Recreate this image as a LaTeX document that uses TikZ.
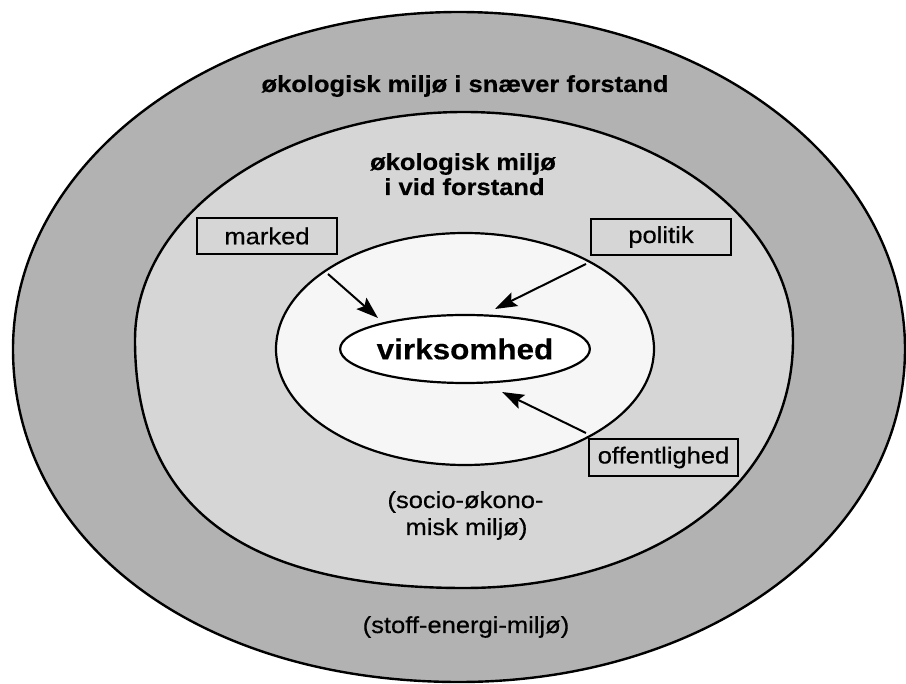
\documentclass[tikz,border=0pt]{standalone}
\usepackage{fontspec}
\setmainfont{Liberation Sans}[FakeStretch=1.1, UprightFeatures={FakeBold=0.5}, BoldFeatures={FakeBold=0.4}]
\usetikzlibrary{arrows.meta,shapes.geometric}
\definecolor{ringout}{gray}{0.70}
\definecolor{ringmid}{gray}{0.84}
\definecolor{ringin}{gray}{0.965}
\tikzset{
  ring/.style={line width=2.4pt},
  lbl/.style={inner sep=0pt, anchor=base, font=\fontsize{23.2}{26.5}\selectfont},
  blbl/.style={inner sep=0pt, anchor=base, font=\fontsize{23.2}{25.5}\selectfont\bfseries},
  tagbox/.style={draw, line width=2pt, rectangle, inner sep=0pt, minimum height=36pt,
    font=\fontsize{23.2}{26}\selectfont},
  infl/.style={line width=2pt, -{Stealth[length=22pt,width=15pt,inset=4pt]}}
}
\begin{document}
\begin{tikzpicture}[x=1pt,y=-1pt]
\useasboundingbox (0,0) rectangle (906,684);
\fill[white] (0,0) rectangle (906,684);
% outer ring
\filldraw[ring, fill=ringout]
  (459,12) .. controls (705.3,12) and (905,162.9) .. (905,349)
  .. controls (905,536) and (708.8,682) .. (459,682)
  .. controls (200.3,682) and (13,542.7) .. (13,349)
  .. controls (13,162.9) and (212.7,12) .. cycle;
% middle ring
\filldraw[ring, fill=ringmid]
  (464,112) .. controls (645.7,112) and (793,214.1) .. (793,340)
  .. controls (793,484.4) and (654.8,588) .. (464,588)
  .. controls (243.6,588) and (135,506.8) .. (135,340)
  .. controls (135,214.1) and (282.3,112) .. cycle;
% inner area
\filldraw[line width=2.2pt, fill=ringin] (465,349) ellipse [x radius=189, y radius=116];
% core
\node[draw, ellipse, line width=2.2pt, fill=white, inner sep=0pt,
      minimum width=240pt, minimum height=68pt,
      font=\fontsize{28.6}{32}\selectfont\bfseries] (virk) at (465,349) {virksomhed};
% labels
\node[blbl] (snaever) at (465,92) {økologisk miljø i snæver forstand};
\node[blbl] (vida) at (463,170) {økologisk miljø};
\node[blbl] (vidb) at (464.5,195) {i vid forstand};
\node[lbl] (socioa) at (465.5,508) {(socio-økono-};
\node[lbl] (sociob) at (466.5,535) {misk miljø)};
\node[lbl] (stoff) at (466,633) {(stoff-energi-miljø)};
% boxes
\node[tagbox, minimum width=140pt] (marked) at (267,236) {marked};
\node[tagbox, minimum width=140pt] (politik) at (661,237) {politik};
\node[tagbox, minimum width=149pt, minimum height=37pt] (offentl) at (663.5,457.5) {offentlighed};
% arrows
\coordinate (ms) at (328,274);
\coordinate (me) at (378,318);
\coordinate (ps) at (586,264);
\coordinate (pe) at (495,309);
\coordinate (os) at (586,433);
\coordinate (oe) at (502,392);
\draw[infl] (ms) -- (me);
\draw[infl] (ps) -- (pe);
\draw[infl] (os) -- (oe);
\end{tikzpicture}
\end{document}
